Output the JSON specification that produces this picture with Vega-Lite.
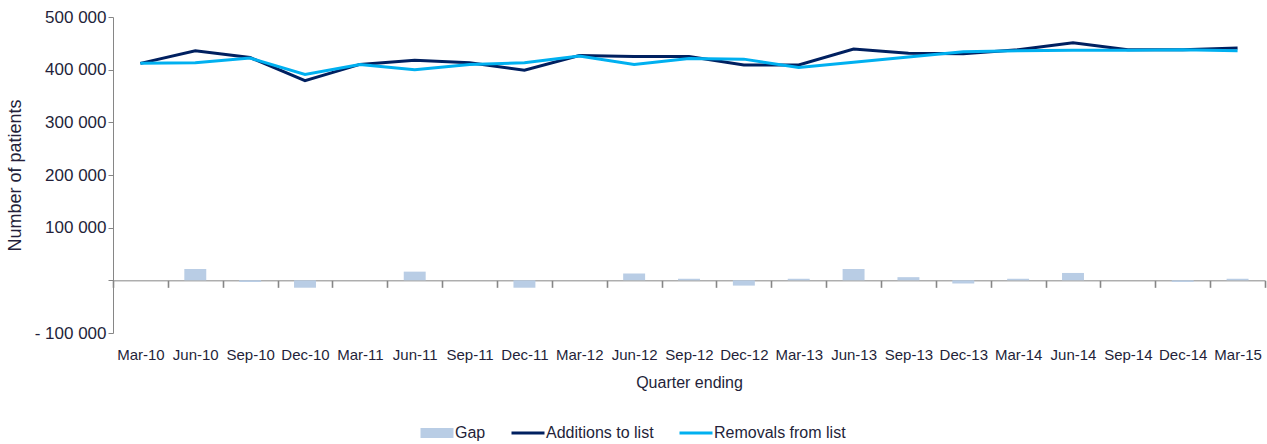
{
  "$schema": "https://vega.github.io/schema/vega-lite/v6.json",
  "width": 1152,
  "height": 316,
  "autosize": {"type": "none"},
  "padding": {"left": 113, "top": 17, "right": 2, "bottom": 111},
  "background": "white",
  "config": {
    "view": {"stroke": null},
    "font": "Liberation Sans",
    "axis": {"labelColor": "#241f3a", "titleColor": "#241f3a", "titleFontWeight": "normal", "domainColor": "#868686", "tickColor": "#868686", "grid": false, "labelFont": "Liberation Sans", "titleFont": "Liberation Sans"},
    "legend": {"labelColor": "#241f3a", "labelFont": "Liberation Sans"}
  },
  "data": {
    "values": [
      {"quarter": "Mar-10", "series": "Additions to list", "value": 412000},
      {"quarter": "Mar-10", "series": "Removals from list", "value": 412000},
      {"quarter": "Mar-10", "series": "Gap", "value": 0},
      {"quarter": "Jun-10", "series": "Additions to list", "value": 436000},
      {"quarter": "Jun-10", "series": "Removals from list", "value": 413000},
      {"quarter": "Jun-10", "series": "Gap", "value": 21500},
      {"quarter": "Sep-10", "series": "Additions to list", "value": 423000},
      {"quarter": "Sep-10", "series": "Removals from list", "value": 422000},
      {"quarter": "Sep-10", "series": "Gap", "value": -3000},
      {"quarter": "Dec-10", "series": "Additions to list", "value": 379000},
      {"quarter": "Dec-10", "series": "Removals from list", "value": 391000},
      {"quarter": "Dec-10", "series": "Gap", "value": -14000},
      {"quarter": "Mar-11", "series": "Additions to list", "value": 410000},
      {"quarter": "Mar-11", "series": "Removals from list", "value": 410000},
      {"quarter": "Mar-11", "series": "Gap", "value": 0},
      {"quarter": "Jun-11", "series": "Additions to list", "value": 418000},
      {"quarter": "Jun-11", "series": "Removals from list", "value": 400000},
      {"quarter": "Jun-11", "series": "Gap", "value": 16500},
      {"quarter": "Sep-11", "series": "Additions to list", "value": 413000},
      {"quarter": "Sep-11", "series": "Removals from list", "value": 410000},
      {"quarter": "Sep-11", "series": "Gap", "value": 0},
      {"quarter": "Dec-11", "series": "Additions to list", "value": 399000},
      {"quarter": "Dec-11", "series": "Removals from list", "value": 413000},
      {"quarter": "Dec-11", "series": "Gap", "value": -14000},
      {"quarter": "Mar-12", "series": "Additions to list", "value": 427000},
      {"quarter": "Mar-12", "series": "Removals from list", "value": 426000},
      {"quarter": "Mar-12", "series": "Gap", "value": 0},
      {"quarter": "Jun-12", "series": "Additions to list", "value": 425000},
      {"quarter": "Jun-12", "series": "Removals from list", "value": 410000},
      {"quarter": "Jun-12", "series": "Gap", "value": 13000},
      {"quarter": "Sep-12", "series": "Additions to list", "value": 425000},
      {"quarter": "Sep-12", "series": "Removals from list", "value": 421000},
      {"quarter": "Sep-12", "series": "Gap", "value": 3000},
      {"quarter": "Dec-12", "series": "Additions to list", "value": 409000},
      {"quarter": "Dec-12", "series": "Removals from list", "value": 420000},
      {"quarter": "Dec-12", "series": "Gap", "value": -10000},
      {"quarter": "Mar-13", "series": "Additions to list", "value": 409000},
      {"quarter": "Mar-13", "series": "Removals from list", "value": 404000},
      {"quarter": "Mar-13", "series": "Gap", "value": 3000},
      {"quarter": "Jun-13", "series": "Additions to list", "value": 439000},
      {"quarter": "Jun-13", "series": "Removals from list", "value": 414000},
      {"quarter": "Jun-13", "series": "Gap", "value": 21500},
      {"quarter": "Sep-13", "series": "Additions to list", "value": 431000},
      {"quarter": "Sep-13", "series": "Removals from list", "value": 424000},
      {"quarter": "Sep-13", "series": "Gap", "value": 6000},
      {"quarter": "Dec-13", "series": "Additions to list", "value": 430000},
      {"quarter": "Dec-13", "series": "Removals from list", "value": 434000},
      {"quarter": "Dec-13", "series": "Gap", "value": -6000},
      {"quarter": "Mar-14", "series": "Additions to list", "value": 438000},
      {"quarter": "Mar-14", "series": "Removals from list", "value": 436000},
      {"quarter": "Mar-14", "series": "Gap", "value": 3000},
      {"quarter": "Jun-14", "series": "Additions to list", "value": 451000},
      {"quarter": "Jun-14", "series": "Removals from list", "value": 437000},
      {"quarter": "Jun-14", "series": "Gap", "value": 14000},
      {"quarter": "Sep-14", "series": "Additions to list", "value": 438000},
      {"quarter": "Sep-14", "series": "Removals from list", "value": 437000},
      {"quarter": "Sep-14", "series": "Gap", "value": 0},
      {"quarter": "Dec-14", "series": "Additions to list", "value": 438000},
      {"quarter": "Dec-14", "series": "Removals from list", "value": 438000},
      {"quarter": "Dec-14", "series": "Gap", "value": -3000},
      {"quarter": "Mar-15", "series": "Additions to list", "value": 441000},
      {"quarter": "Mar-15", "series": "Removals from list", "value": 436000},
      {"quarter": "Mar-15", "series": "Gap", "value": 3000}
    ]
  },
  "encoding": {
    "x": {
      "field": "quarter",
      "type": "nominal",
      "sort": ["Mar-10","Jun-10","Sep-10","Dec-10","Mar-11","Jun-11","Sep-11","Dec-11","Mar-12","Jun-12","Sep-12","Dec-12","Mar-13","Jun-13","Sep-13","Dec-13","Mar-14","Jun-14","Sep-14","Dec-14","Mar-15"],
      "scale": {"type": "band", "paddingInner": 0, "paddingOuter": 0},
      "axis": {
        "orient": "bottom",
        "offset": -52.67,
        "ticks": true,
        "tickBand": "extent",
        "tickSize": 7,
        "tickWidth": 1.6,
        "labelAngle": 0,
        "labelFontSize": 15,
        "labelPadding": 60,
        "title": "Quarter ending",
        "titleFontSize": 16,
        "titlePadding": 12
      }
    },
    "y": {
      "field": "value",
      "type": "quantitative",
      "scale": {"domain": [-100000, 500000], "nice": false, "zero": false},
      "axis": {
        "values": [-100000, 0, 100000, 200000, 300000, 400000, 500000],
        "labelExpr": "datum.value === 0 ? '' : (datum.value < 0 ? '- ' : '') + replace(format(abs(datum.value), ','), ',', ' ')",
        "tickSize": 5,
        "labelPadding": 2,
        "labelFontSize": 17,
        "title": "Number of patients",
        "titleFontSize": 18,
        "titlePadding": 10
      }
    },
    "color": {
      "field": "series",
      "type": "nominal",
      "scale": {"domain": ["Gap", "Additions to list", "Removals from list"], "range": ["#B9CDE5", "#002060", "#00B0F0"]},
      "legend": {
        "orient": "none",
        "legendX": 316,
        "legendY": 408,
        "direction": "horizontal",
        "title": null,
        "symbolSize": 1089,
        "symbolType": "stroke",
        "symbolStrokeWidth": 3,
        "labelFontSize": 16,
        "labelOffset": 10,
        "columnPadding": 19,
        "encode": {
          "symbols": {
            "update": {
              "shape": {"signal": "datum.value === 'Gap' ? 'M-1,-0.3H1V0.3H-1Z' : 'stroke'"},
              "fill": {"signal": "datum.value === 'Gap' ? '#B9CDE5' : 'transparent'"},
              "stroke": {"signal": "datum.value === 'Gap' ? 'transparent' : (datum.value === 'Additions to list' ? '#002060' : '#00B0F0')"},
              "strokeWidth": {"signal": "datum.value === 'Gap' ? 0 : 3"},
              "opacity": {"value": 1}
            }
          }
        }
      }
    }
  },
  "layer": [
    {
      "transform": [{"filter": "datum.series === 'Gap'"}],
      "mark": {"type": "bar", "width": {"band": 0.4}, "opacity": 1}
    },
    {
      "transform": [{"filter": "datum.series !== 'Gap'"}],
      "mark": {"type": "line", "strokeWidth": 3}
    }
  ]
}
